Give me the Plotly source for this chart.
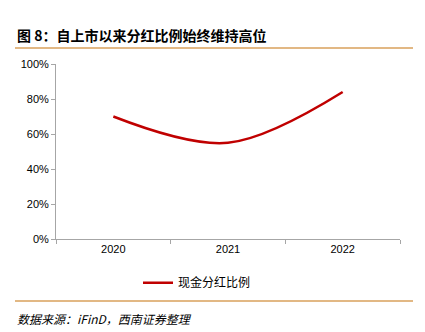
import plotly.graph_objects as go

years = ["2020", "2021", "2022"]
payout_ratio = [0.70, 0.55, 0.84]
series_name = "现金分红比例"
title_text = "图 8：自上市以来分红比例始终维持高位"
source_text = "数据来源：iFinD，西南证券整理"

fig = go.Figure()
fig.add_trace(go.Scatter(
    x=years, y=payout_ratio, name=series_name, mode="lines",
    line=dict(color="#C00000", width=2.5, shape="spline", smoothing=1.0),
))

W, H = 425, 332
ml, mr, mt, mb = 56, 25, 64, 93

fig.update_layout(
    width=W, height=H,
    margin=dict(l=ml, r=mr, t=mt, b=mb),
    paper_bgcolor="white", plot_bgcolor="white",
    font=dict(family="Liberation Sans, Arial, sans-serif", size=11, color="#000000"),
    showlegend=True,
    legend=dict(orientation="h", x=(197 - ml) / (W - ml - mr), xanchor="center",
                y=-0.25, yanchor="middle",
                font=dict(family="Noto Sans CJK SC", size=12), itemwidth=30),
    xaxis=dict(
        type="category", showgrid=False, showline=True, linecolor="#A6A6A6", linewidth=1,
        ticks="outside", tickson="boundaries", ticklen=4, tickcolor="#A6A6A6",
        tickfont=dict(size=11), range=[-0.5, 2.5],
    ),
    yaxis=dict(
        range=[0, 1.0], dtick=0.2, tickformat=".0%", showgrid=False, showline=True,
        linecolor="#A6A6A6", linewidth=1, ticks="outside", ticklen=4, tickcolor="#A6A6A6",
        tickfont=dict(size=11), zeroline=False,
    ),
    shapes=[
        dict(type="line", xref="paper", yref="paper",
             x0=(15 - ml) / (W - ml - mr), x1=(413 - ml) / (W - ml - mr),
             y0=(H - mb - 48) / (H - mt - mb), y1=(H - mb - 48) / (H - mt - mb),
             line=dict(color="#D9A05B", width=1.5)),
        dict(type="line", xref="paper", yref="paper",
             x0=(15 - ml) / (W - ml - mr), x1=(413 - ml) / (W - ml - mr),
             y0=(H - mb - 301) / (H - mt - mb), y1=(H - mb - 301) / (H - mt - mb),
             line=dict(color="#D9A05B", width=1.5)),
    ],
    annotations=[
        dict(text="<b>" + title_text + "</b>", xref="paper", yref="paper",
             x=(15 - ml) / (W - ml - mr), xanchor="left",
             y=(H - mb - 35) / (H - mt - mb), yanchor="middle", showarrow=False,
             font=dict(family="Noto Sans CJK SC", size=14, color="#000000")),
        dict(text="<i>" + source_text + "</i>", xref="paper", yref="paper",
             x=(15 - ml) / (W - ml - mr), xanchor="left",
             y=(H - mb - 318) / (H - mt - mb), yanchor="middle", showarrow=False,
             font=dict(family="Noto Sans CJK SC", size=12, color="#000000")),
    ],
)

fig.write_html("out.html")
